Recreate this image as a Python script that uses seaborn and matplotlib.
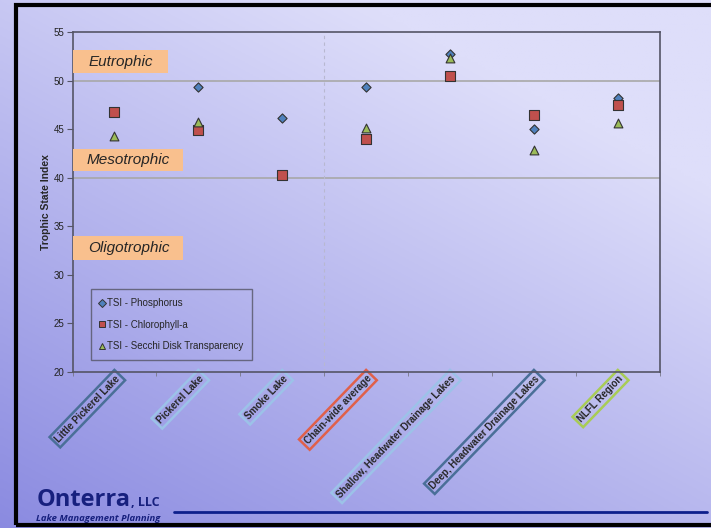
import numpy as np
import pandas as pd
import matplotlib
matplotlib.use("Agg")
import matplotlib.pyplot as plt
from matplotlib.patches import Rectangle
from matplotlib.lines import Line2D
import seaborn as sns

# Data
sites = ["Little Pickerel Lake", "Pickerel Lake", "Smoke Lake", "Chain-wide average",
         "Shallow, Headwater Drainage Lakes", "Deep, Headwater Drainage Lakes", "NLFL Region"]
tsi_phosphorus = [np.nan, 49.4, 46.2, 49.4, 52.8, 45.0, 48.2]
tsi_chlorophyll = [46.8, 44.9, 40.3, 44.0, 50.5, 46.5, 47.5]
tsi_secchi = [44.3, 45.8, np.nan, 45.1, 52.4, 42.9, 45.7]
series_names = ["TSI - Phosphorus", "TSI - Chlorophyll-a", "TSI - Secchi Disk Transparency"]
y_ticks = [20, 25, 30, 35, 40, 45, 50, 55]
zone_names = ["Eutrophic", "Mesotrophic", "Oligotrophic"]
label_edge = ["#4a6f98", "#9cc2e8", "#9cc2e8", "#e0604a", "#9cc2e8", "#4a6f98", "#a8cc55"]

rows = []
for name, vals in zip(series_names, [tsi_phosphorus, tsi_chlorophyll, tsi_secchi]):
    for i, v in enumerate(vals):
        if not np.isnan(v):
            rows.append({"site": i, "tsi": v, "series": name})
df = pd.DataFrame(rows)

sns.set_style("white")
plt.rcParams['font.family'] = ['Liberation Sans', 'DejaVu Sans']

fig = plt.figure(figsize=(7.11, 5.28), dpi=100)

# gradient background
bg = fig.add_axes([0, 0, 1, 1], zorder=-10)
xx, yy = np.meshgrid(np.linspace(0, 1, 200), np.linspace(0, 1, 200))
t = np.clip(0.5 * xx + 0.7 * yy + 0.05, 0, 1)
dark = np.array([0x86, 0x86, 0xdf]) / 255
light = np.array([0xde, 0xde, 0xfa]) / 255
img = dark[None, None, :] * (1 - t[..., None]) + light[None, None, :] * t[..., None]
bg.imshow(img, origin="lower", extent=[0, 1, 0, 1], aspect="auto")
bg.set_xlim(0, 1)
bg.set_ylim(0, 1)
bg.axis("off")

ax = fig.add_axes([0.102, 0.2955, 0.826, 0.6433])
ax.patch.set_alpha(0)

palette = {series_names[0]: "#4f81bd", series_names[1]: "#c0504d", series_names[2]: "#9bbb59"}
markers = {series_names[0]: "D", series_names[1]: "s", series_names[2]: "^"}
sizes = {series_names[0]: 22, series_names[1]: 50, series_names[2]: 40}
for name in series_names:
    sub = df[df["series"] == name]
    sns.scatterplot(data=sub, x="site", y="tsi", color=palette[name], marker=markers[name],
                    s=sizes[name], edgecolor="#333333", linewidth=0.8, ax=ax, zorder=5, legend=False)

ax.set_xlim(-0.5, len(sites) - 0.5)
ax.set_ylim(20, 55)
ax.set_yticks(y_ticks)
ax.set_yticklabels([str(v) for v in y_ticks], fontsize=7, color="#222222")
ax.axhline(40, color="#a8a8a8", lw=1.2, zorder=1)
ax.axhline(50, color="#a8a8a8", lw=1.2, zorder=1)
ax.axvline(2.5, color="#b8b8d0", lw=0.8, ls=(0, (3, 3)), zorder=1)
for s in ax.spines.values():
    s.set_color("#555566")
    s.set_linewidth(1.2)
ax.tick_params(axis="y", length=4, color="#555566", left=True, pad=2)
ax.set_ylabel("Trophic State Index", fontsize=7.5, fontweight="bold", labelpad=2)
ax.set_xlabel("")

ax.set_xticks(np.arange(-0.5, len(sites), 1), minor=True)
ax.tick_params(axis="x", which="minor", length=3, color="#777788", bottom=True)
ax.set_xticks(range(len(sites)))
ax.tick_params(axis="x", which="major", length=0, pad=1)
ax.set_xticklabels(sites, rotation=46, ha="right", va="top", rotation_mode="anchor",
                   fontsize=7, fontweight="bold")
for lbl, ec in zip(ax.get_xticklabels(), label_edge):
    lbl.set_bbox(dict(facecolor="none", edgecolor=ec, linewidth=1.8, boxstyle="square,pad=0.25"))

# trophic zone labels: (box right edge in axes fraction, box bottom, box top, text x)
zone_boxes = [(0.162, 50.77, 53.18, 0.083), (0.188, 40.70, 42.97, 0.094), (0.188, 31.53, 34.0, 0.0955)]
for name, (xr, y0, y1, tx) in zip(zone_names, zone_boxes):
    ax.add_patch(Rectangle((0, y0), xr, y1 - y0, transform=ax.get_yaxis_transform(),
                           facecolor="#f9c08e", edgecolor="none", zorder=4))
    ax.text(tx, (y0 + y1) / 2, name, transform=ax.get_yaxis_transform(), fontsize=11,
            fontstyle="italic", va="center", ha="center", zorder=6)

handles = [Line2D([], [], ls="none", marker=markers[n], color=palette[n], markeredgecolor="#333333",
                  markersize=5 if n != series_names[0] else 4, markeredgewidth=0.7) for n in series_names]
leg = ax.legend(handles, series_names, loc="lower left", bbox_to_anchor=(0.031, 0.035),
                fontsize=7, frameon=True, fancybox=False, handlelength=0.6, handletextpad=0.2,
                labelspacing=1.2, borderpad=0.9, borderaxespad=0)
leg.get_frame().set_facecolor("none")
leg.get_frame().set_edgecolor("#555566")
leg.get_frame().set_linewidth(1.0)

# frame and logo
fig.patches.append(Rectangle((0.022, 0.006), 1.0, 0.984, transform=fig.transFigure,
                             fill=False, edgecolor="black", linewidth=3, zorder=20))
fig.text(0.051, 0.041, "Onterra", fontsize=17, fontweight="bold", color="#17207e",
         family=["Open Sans", "DejaVu Sans"])
fig.text(0.184, 0.041, ", LLC", fontsize=9, fontweight="bold", color="#17207e",
         family=["Open Sans", "DejaVu Sans"])
fig.text(0.051, 0.014, "Lake Management Planning", fontsize=6.8, fontstyle="italic",
         fontweight="bold", color="#17207e", family=["Open Sans", "DejaVu Sans"])
fig.lines.append(Line2D([0.245, 0.994], [0.031, 0.031], transform=fig.transFigure,
                        color="#0d1f8c", lw=2))

fig.savefig("out.png", dpi=100)
